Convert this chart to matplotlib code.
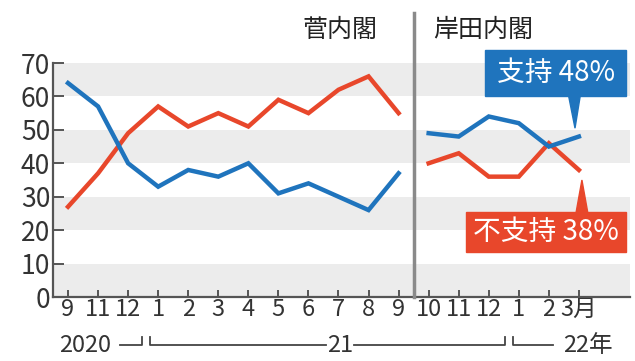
import matplotlib
matplotlib.use("Agg")
import matplotlib.pyplot as plt
from matplotlib.patches import Rectangle, Polygon

plt.rcParams['font.family'] = ['Noto Sans CJK JP', 'DejaVu Sans']

# data
months = ['9', '11', '12', '1', '2', '3', '4', '5', '6', '7', '8', '9',
          '10', '11', '12', '1', '2', '3月']
suga_support = [64, 57, 40, 33, 38, 36, 40, 31, 34, 30, 26, 37]
suga_nonsupport = [27, 37, 49, 57, 51, 55, 51, 59, 55, 62, 66, 55]
kishida_support = [49, 48, 54, 52, 45, 48]
kishida_nonsupport = [40, 43, 36, 36, 46, 38]
yticks = [0, 10, 20, 30, 40, 50, 60, 70]

blue = '#1f74bd'
red = '#e8472b'
axis_col = '#555555'

W, H = 635, 361
fig = plt.figure(figsize=(W / 100, H / 100), dpi=100)
fig.patch.set_facecolor('white')
# axes in pixel terms: left 53, right 630, top 63, bottom 297
ax = fig.add_axes([53 / W, 1 - 297 / H, (630 - 53) / W, (297 - 63) / H])
ax.set_xlim(-0.5, 18.7)
ax.set_ylim(0, 70)
ax.set_facecolor('white')

# alternating bands
for lo in range(0, 70, 20):
    ax.axhspan(lo, lo + 10, color='#ececec', zorder=0, lw=0)
ax.axhspan(60, 70, color='#ececec', zorder=0, lw=0)

n1 = len(suga_support)
x1 = list(range(n1))
x2 = list(range(n1, n1 + len(kishida_support)))

ax.plot(x1, suga_nonsupport, color=red, lw=3.2, zorder=3, solid_joinstyle='miter')
ax.plot(x1, suga_support, color=blue, lw=3.2, zorder=4, solid_joinstyle='miter')
ax.plot(x2, kishida_nonsupport, color=red, lw=3.2, zorder=3, solid_joinstyle='miter')
ax.plot(x2, kishida_support, color=blue, lw=3.2, zorder=4, solid_joinstyle='miter')

# divider
ax.plot([11.5, 11.5], [0, 85], color='#8a8a8a', lw=2.5, clip_on=False, zorder=5)

for s in ['top', 'right']:
    ax.spines[s].set_visible(False)
for s in ['left', 'bottom']:
    ax.spines[s].set_color(axis_col)
    ax.spines[s].set_linewidth(1.6)

ax.set_yticks(yticks)
ax.set_yticklabels([str(v) for v in yticks], fontsize=19, color='#333333')
ax.set_xticks(range(len(months)))
ax.set_xticklabels(months, fontsize=17, color='#333333')
ax.tick_params(axis='y', direction='in', length=8, width=1.4, color=axis_col, pad=2)
ax.tick_params(axis='x', direction='in', length=5, width=1.4, color=axis_col, pad=1)

# cabinet labels
ax.text(9.05, 79.8, '菅内閣', fontsize=18, ha='center', va='center', color='#222222', clip_on=False)
ax.text(13.8, 79.8, '岸田内閣', fontsize=18, ha='center', va='center', color='#222222', clip_on=False)

# callouts
ax.add_patch(Rectangle((13.87, 60.1), 4.69, 13.8, color=blue, clip_on=False, zorder=6))
ax.add_patch(Polygon([(16.65, 60.5), (17.05, 60.5), (16.87, 50.5)], closed=True,
                     color=blue, clip_on=False, zorder=6))
ax.text(16.25, 67.0, '支持 48%', fontsize=20, color='white', ha='center', va='center',
        zorder=7, clip_on=False)

ax.add_patch(Rectangle((13.24, 13.5), 5.32, 11.9, color=red, clip_on=False, zorder=6))
ax.add_patch(Polygon([(16.9, 25.0), (17.3, 25.0), (17.1, 35.0)], closed=True,
                     color=red, clip_on=False, zorder=6))
ax.text(15.9, 19.4, '不支持 38%', fontsize=20, color='white', ha='center', va='center',
        zorder=7, clip_on=False)

# year row
yl = -14.4
yt = -12.0
kw = dict(color='#444444', lw=1.3, clip_on=False)
ax.plot([1.73, 2.45, 2.45], [yl, yl, yt], **kw)
ax.plot([2.72, 2.72, 8.6], [yt, yl, yl], **kw)
ax.plot([9.5, 14.55, 14.55], [yl, yl, yt], **kw)
ax.plot([14.8, 14.8, 16.13], [yt, yl, yl], **kw)
ax.text(0.57, -14.6, '2020', fontsize=17, ha='center', va='center', color='#333333', clip_on=False)
ax.text(9.05, -14.6, '21', fontsize=17, ha='center', va='center', color='#333333', clip_on=False)
ax.text(17.3, -14.6, '22年', fontsize=17, ha='center', va='center', color='#333333', clip_on=False)

fig.savefig('out.png', dpi=100)
